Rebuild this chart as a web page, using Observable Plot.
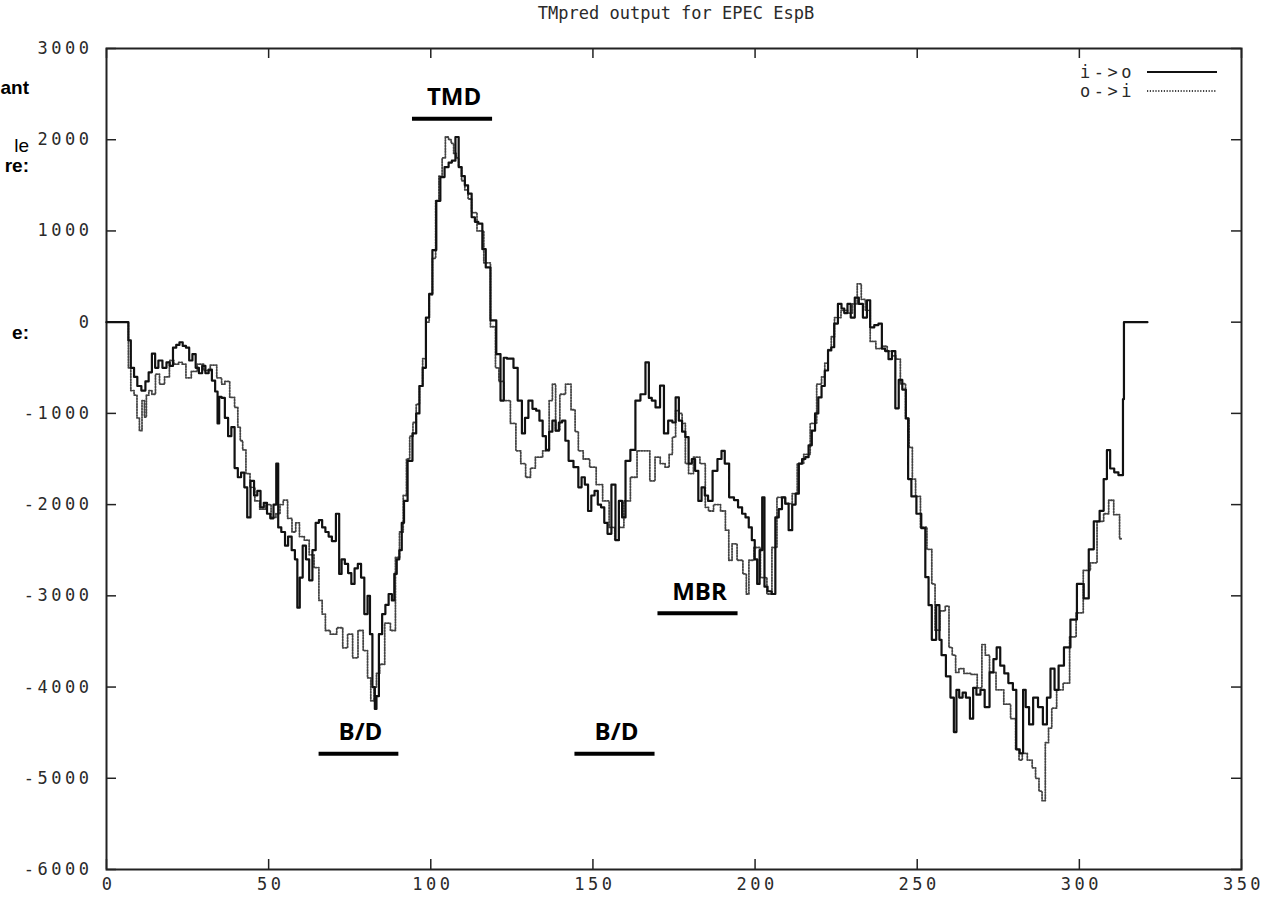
<!DOCTYPE html>
<html>
<head>
<meta charset="utf-8">
<script src="https://cdn.jsdelivr.net/npm/d3@7"></script>
<script src="https://cdn.jsdelivr.net/npm/@observablehq/plot@0.6"></script>
<style>
  html, body { margin: 0; padding: 0; background: #fff; }
  #wrap { position: relative; width: 1284px; height: 900px; overflow: hidden; }
  #chart svg { display: block; }
  g[aria-label$="tick label"] text, g[aria-label="title"] text { letter-spacing: 3.5px; }
  g[aria-label="annotation"] text { letter-spacing: 4px; }
  .cut { position: absolute; left: -200px; width: 229px; text-align: right;
         font-family: "Liberation Sans", Arial, sans-serif; font-size: 19px; line-height: 19px; color: #000; white-space: nowrap; }
  #legend { position: absolute; left: 1060px; top: 60px; }
</style>
</head>
<body>
<div id="wrap">
  <div id="chart"></div>
  <div class="cut" style="top:78px;font-weight:bold">ant</div>
  <div class="cut" style="top:136px">le</div>
  <div class="cut" style="top:156px;font-weight:bold">re:</div>
  <div class="cut" style="top:323px;font-weight:bold">e:</div>
  <div id="legend"></div>
</div>
<script>
const title = "TMpred output for EPEC EspB";
const seriesNames = ["i->o", "o->i"];

const xTicks = [0, 50, 100, 150, 200, 250, 300, 350];
const yTicks = [3000, 2000, 1000, 0, -1000, -2000, -3000, -4000, -5000, -6000];

// i->o (solid)
const ioX = [0,6.5,7,8,9,10,11.5,12.5,13.5,14.5,15.5,16.5,18,19,20,21,22,23,24,25,26,27,28,29,30,31,32,33,34,34.5,35,36,37,38,39,40,41,42,43,43.8,45,46,47,48,49,50,51,52,52.7,53.2,54.6,55.5,56.5,57.7,58.5,59.2,60,61,62,63,64,65,66,67,68,69,70,71.5,72,73,74,75,76,77,78,79,80,81,81.5,82.5,83,83.5,84.5,85.5,86.5,87.5,88.5,89,90,90.6,91.5,92,93.7,95,96,97,98,99,100,101,102.4,103.5,105,106,107,108.2,109,110,111,112,113.2,114,115.3,116.5,117.4,119.4,121,122,123,124,125,126,127.6,128.6,129.5,130.7,132,133,134,135,136,137,138,139,140,141,142,143,145,146,147,148,149,150,151,152,153,154,155,156.4,157.5,158.5,159.5,160.6,162.5,163.7,165.6,166.8,167.7,168.6,170,171.4,172.4,174,175,176,177,178,179,180,181,182,183,184,185,186,187.8,189,190.3,191,193,194,195.5,196.5,197.6,198.5,199.5,200.3,201,201.8,202.6,203.2,204.5,205.7,206.8,207.8,208.8,209.8,210.9,212,213,214,215,216,217,218,219,220,221,222,223,224,224.8,226.3,227,228,229,230,231.5,232.5,234,235,236,237.5,238.6,239.6,240.6,241.7,242.7,243.8,244.8,246,247,247.4,249,250.5,252,253,254,255,256.7,257,258,259.7,260.8,261.8,262.4,263.5,264.5,265.5,267,267.5,269,270,271.6,273,274,275,276.2,277.5,278.7,280.3,280.8,282.4,282.9,284,285,286.5,288,289.5,290.5,291.7,293,294.2,296.3,298.2,300.3,302.4,303.4,305.5,307,308,309,310,311.5,312.6,313.3,313.6,313.9,321];
const ioY = [0,0,-200,-500,-600,-700,-750,-650,-550,-345,-500,-420,-500,-440,-480,-280,-250,-220,-260,-280,-420,-350,-500,-560,-480,-560,-520,-640,-760,-1110,-820,-830,-1050,-1250,-1150,-1600,-1700,-1650,-1810,-2140,-1740,-1900,-1850,-2030,-1980,-2100,-2150,-2000,-1550,-2250,-2300,-2450,-2350,-2500,-2600,-3130,-2800,-2450,-2600,-2830,-2500,-2200,-2170,-2250,-2300,-2350,-2400,-2100,-2760,-2600,-2650,-2750,-2870,-2700,-2650,-2800,-3200,-3000,-3420,-4000,-4240,-4100,-3420,-3200,-3100,-2980,-3050,-2760,-2600,-2500,-2200,-1960,-1520,-1220,-1000,-700,-500,50,310,790,1330,1590,1700,1750,1770,2030,1700,1600,1500,1410,1150,1100,1080,800,600,20,-350,-860,-390,-400,-400,-500,-860,-1220,-1050,-860,-950,-970,-1080,-1250,-1400,-1200,-1080,-1190,-1100,-1080,-1300,-1520,-1590,-1810,-1700,-1780,-2070,-1900,-1850,-2000,-2030,-2200,-2320,-1780,-2390,-1960,-2140,-1520,-1400,-860,-790,-440,-830,-860,-935,-695,-1220,-1080,-1100,-825,-1080,-1200,-1260,-1550,-1500,-1630,-1960,-1810,-1900,-1960,-1630,-1500,-1410,-1550,-1920,-1950,-2030,-2100,-2140,-2250,-2390,-2600,-2870,-2500,-1920,-2900,-2950,-2980,-2140,-2050,-1920,-1990,-2280,-2000,-1880,-1550,-1500,-1480,-1350,-1190,-1000,-825,-700,-530,-310,-275,-15,200,150,100,200,50,270,200,50,240,-58,-32,-16,-290,-317,-406,-317,-944,-633,-739,-1055,-1720,-1910,-2100,-2258,-2796,-3102,-3482,-3102,-3482,-3650,-3882,-4115,-4494,-4030,-4115,-4062,-4115,-4347,-4009,-4083,-4030,-4220,-3840,-3693,-3566,-3766,-3851,-3956,-4030,-4684,-4726,-4030,-4220,-4410,-4115,-4220,-4410,-4115,-3798,-4030,-3766,-3566,-3260,-2870,-3028,-2490,-2184,-2068,-1720,-1403,-1604,-1646,-1677,-1677,-844,0,0];

// o->i (dotted)
const oiX = [0,6.5,7,8,9,9.8,10.5,11.4,12,12.6,13.5,14.5,15.7,17,18.8,20,21.5,23,23.7,25.3,27,29,31,33,35,36,37,39,40,41,41.5,42.5,43.5,45,46.5,48,50,51.5,53,54,55,56.7,57.7,59,60,62,63,65,66,67,68,70,72,73.7,75,76.8,78.3,80,81,82,83,83.5,85,86.6,88.5,89.7,91,92,93,94,95,96,97,98,99,100,101,102,103,104,105,106,106.6,107.5,108.2,109,110,111,112,113.2,115.3,117.4,119.4,120.5,121.5,123.6,125.5,127,128.5,130,131.5,133,136,137,138,139,140.6,142.5,144,145,146,148,150,152,154,156,157.5,158.5,160.6,162.5,164.7,166.8,168.3,170,171.5,173,174,175,176,177,178,179,180,182,184,185.3,186,188.4,190.3,191.4,192.4,193.4,195.5,197,197.6,198.6,200.7,202.6,204.7,205.7,207.8,210.9,212,214,216,218,220,221,222,223,224,225,228,229,231,232,233.5,234.5,236.5,238,240,241.5,243,243.8,245.8,247,248,249,250,252,254,255,256,258,259.3,260.3,261.3,262.4,263.3,265.5,267.5,269.5,270.4,271.6,273,275.6,277.8,279.8,280.9,281.9,282.9,285,285.9,287.1,288,289,290,291,292,294,296,298,300,302.4,304.4,306.5,308.5,309.6,311.6,313.2];
const oiY = [0,0,-500,-750,-800,-1050,-1190,-860,-1040,-800,-750,-790,-570,-680,-600,-420,-460,-440,-460,-610,-540,-460,-530,-470,-610,-680,-650,-825,-935,-1150,-1300,-1400,-1660,-1810,-1960,-2050,-2000,-2140,-2100,-2000,-1950,-2150,-2300,-2200,-2350,-2390,-2550,-2690,-3050,-3200,-3380,-3420,-3350,-3570,-3420,-3680,-3380,-3600,-3900,-4150,-4000,-3850,-3750,-3300,-3380,-2580,-2300,-1900,-1500,-1250,-1100,-900,-700,-400,0,300,700,1330,1600,1800,2030,2000,1960,1850,1800,1700,1550,1450,1350,1200,1000,650,-50,-500,-650,-860,-1110,-1410,-1550,-1700,-1600,-1480,-1410,-860,-680,-1190,-790,-680,-960,-1200,-1410,-1500,-1590,-1780,-1960,-2250,-2390,-2250,-1960,-1700,-1410,-1410,-1740,-1480,-1550,-1590,-1450,-1260,-970,-1000,-1110,-1550,-1660,-1480,-1550,-2030,-2070,-2000,-2070,-2280,-2610,-2430,-2610,-2760,-2980,-2610,-2470,-2800,-2980,-2470,-1920,-1990,-1880,-1550,-1450,-1110,-680,-600,-450,-300,-160,50,130,100,200,420,250,130,-211,-290,-264,-317,-369,-406,-675,-1055,-1372,-1720,-1910,-2247,-2490,-2870,-3376,-3165,-3112,-3566,-3650,-3840,-3798,-3851,-3862,-4009,-3534,-3650,-3840,-4030,-4188,-4347,-4684,-4800,-4726,-4800,-4885,-5000,-5140,-5245,-4610,-4450,-4230,-4030,-3956,-3450,-3186,-2722,-2638,-2184,-2100,-1952,-2110,-2374];

// domain annotations
const annLabels = ["TMD", "B/D", "B/D", "MBR"];
const annX1 = [94.2, 65.4, 144.3, 169.9];
const annX2 = [118.9, 90.0, 169.0, 194.6];
const annY = [2230, -4730, -4730, -3190];

const io = ioX.map((x, i) => ({x, y: ioY[i]}));
const oi = oiX.map((x, i) => ({x, y: oiY[i]}));
const ann = annLabels.map((label, i) => ({label, x1: annX1[i], x2: annX2[i], y: annY[i], xc: (annX1[i] + annX2[i]) / 2}));

const W = 1284, H = 900, mL = 106, mR = 43, mT = 48, mB = 31;
const innerW = W - mL - mR, innerH = H - mT - mB;
const tickLen = 10;
const mono = "DejaVu Sans Mono, monospace";

const chart = Plot.plot({
  width: W, height: H,
  marginLeft: mL, marginRight: mR, marginTop: mT, marginBottom: mB,
  x: {domain: [0, 350]},
  y: {domain: [-6000, 3000]},
  style: {fontFamily: mono, fontSize: "17px", color: "#222", background: "#fff"},
  marks: [
    // inward ticks on all four sides
    Plot.ruleX(xTicks, {x: d => d, insetTop: innerH - tickLen, stroke: "#222", strokeWidth: 1.5}),
    Plot.ruleX(xTicks, {x: d => d, insetBottom: innerH - tickLen, stroke: "#222", strokeWidth: 1.5}),
    Plot.ruleY(yTicks, {y: d => d, insetRight: innerW - tickLen, stroke: "#222", strokeWidth: 1.5}),
    Plot.ruleY(yTicks, {y: d => d, insetLeft: innerW - tickLen, stroke: "#222", strokeWidth: 1.5}),
    Plot.axisX(xTicks, {tickSize: 0, tickPadding: 8, tickFormat: d => String(d), label: null, fontSize: 17, fill: "#2a2a2a", dx: 2}),
    Plot.axisY(yTicks, {tickSize: 0, tickPadding: 14, tickFormat: d => String(d), label: null, fontSize: 17, fill: "#2a2a2a"}),
    Plot.frame({stroke: "#222", strokeWidth: 2}),
    // series
    Plot.line(oi, {x: "x", y: "y", curve: "step", stroke: "#444", strokeWidth: 1.8, strokeDasharray: "1.2,1.6"}),
    Plot.line(io, {x: "x", y: "y", curve: "step", stroke: "#111", strokeWidth: 2.2}),
    // annotations
    Plot.link(ann, {x1: "x1", x2: "x2", y1: "y", y2: "y", stroke: "#000", strokeWidth: 4, ariaLabel: "annotation-line"}),
    Plot.text(ann, {x: "xc", y: "y", text: "label", dy: -21, dx: 2, lineAnchor: "middle", fontFamily: "Open Sans, sans-serif", fontWeight: "bold", fontSize: 24, fill: "#000", ariaLabel: "annotation"}),
    // title
    Plot.text([title], {frameAnchor: "top", dy: -35, text: d => d, lineAnchor: "middle", fontSize: 17, fill: "#2a2a2a", dx: 2, ariaLabel: "title"})
  ]
});
document.getElementById("chart").appendChild(chart);

// legend (top-right, inside frame)
const lg = d3.select("#legend").append("svg").attr("width", 180).attr("height", 45);
const legendRows = [
  {name: seriesNames[0], dash: null, stroke: "#111", y: 12},
  {name: seriesNames[1], dash: "1.2,1.6", stroke: "#444", y: 31}
];
legendRows.forEach(r => {
  lg.append("text").attr("x", 75).attr("y", r.y).attr("dy", "0.35em").attr("text-anchor", "end")
    .attr("font-family", mono).attr("font-size", 17).attr("fill", "#2a2a2a").style("letter-spacing", "3.5px").text(r.name);
  lg.append("line").attr("x1", 87).attr("x2", 157).attr("y1", r.y).attr("y2", r.y)
    .attr("stroke", r.stroke).attr("stroke-width", r.dash ? 1.8 : 2).attr("stroke-dasharray", r.dash);
});
</script>
</body>
</html>
